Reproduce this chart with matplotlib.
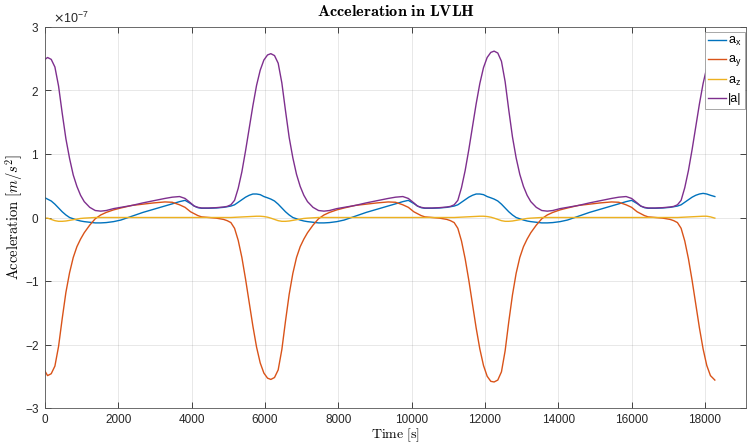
import numpy as np
import matplotlib.pyplot as plt
from matplotlib.ticker import ScalarFormatter, MultipleLocator

plt.rcParams['font.family'] = ['Liberation Sans', 'DejaVu Sans']
plt.rcParams['mathtext.fontset'] = 'cm'
plt.rcParams['axes.unicode_minus'] = False

# time [s], one row per orbit segment (peak of |a| to next peak)
time_s = [0,
          70, 170, 270, 370, 470, 570, 670, 770, 870, 970, 1070, 1220, 1370, 1520, 1670,
          1870, 2070, 2370, 2670, 2970, 3270, 3470, 3670, 3820, 3970, 4070, 4170, 4270,
          4470, 4670, 4870, 4970, 5070, 5170, 5270, 5370, 5470, 5570, 5670, 5770, 5870,
          5970, 6070,
          6160, 6260, 6360, 6460, 6560, 6660, 6760, 6860, 6960, 7060, 7160, 7310, 7460,
          7610, 7760, 7960, 8160, 8460, 8760, 9060, 9360, 9560, 9760, 9910, 10060, 10160,
          10260, 10360, 10560, 10760, 10960, 11060, 11160, 11260, 11360, 11460, 11560,
          11660, 11760, 11860, 11960, 12060, 12160,
          12250, 12350, 12450, 12550, 12650, 12750, 12850, 12950, 13050, 13150, 13250,
          13400, 13550, 13700, 13850, 14050, 14250, 14550, 14850, 15150, 15450, 15650,
          15850, 16000, 16150, 16250, 16350, 16450, 16650, 16850, 17050, 17150, 17250,
          17350, 17450, 17550, 17650, 17750, 17850, 17950, 18050, 18150, 18270]

# accelerations in units of 1e-7 m/s^2
a_x = [0.31,
       0.29, 0.26, 0.21, 0.15, 0.09, 0.04, 0.00, -0.02, -0.04, -0.055, -0.065, -0.075,
       -0.085, -0.085, -0.08, -0.065, -0.04, 0.02, 0.08, 0.13, 0.18, 0.215, 0.25, 0.27,
       0.22, 0.18, 0.155, 0.145, 0.145, 0.15, 0.16, 0.17, 0.18, 0.20, 0.24, 0.28, 0.32,
       0.35, 0.37, 0.37, 0.36, 0.33, 0.31,
       0.29, 0.26, 0.21, 0.15, 0.09, 0.04, 0.00, -0.02, -0.04, -0.055, -0.065, -0.075,
       -0.085, -0.085, -0.08, -0.065, -0.04, 0.02, 0.08, 0.13, 0.18, 0.215, 0.25, 0.27,
       0.22, 0.18, 0.155, 0.145, 0.145, 0.15, 0.16, 0.17, 0.18, 0.20, 0.24, 0.28, 0.32,
       0.35, 0.37, 0.37, 0.36, 0.33, 0.31,
       0.29, 0.26, 0.21, 0.15, 0.09, 0.04, 0.00, -0.02, -0.04, -0.055, -0.065, -0.075,
       -0.085, -0.085, -0.08, -0.065, -0.04, 0.02, 0.08, 0.13, 0.18, 0.215, 0.25, 0.27,
       0.22, 0.18, 0.155, 0.145, 0.145, 0.15, 0.16, 0.17, 0.18, 0.20, 0.24, 0.28, 0.32,
       0.35, 0.37, 0.38, 0.37, 0.35, 0.33]

a_y = [-2.42,
       -2.49, -2.46, -2.34, -2.03, -1.59, -1.18, -0.87, -0.63, -0.46, -0.34, -0.24, -0.12,
       -0.02, 0.04, 0.08, 0.12, 0.15, 0.19, 0.21, 0.23, 0.245, 0.24, 0.20, 0.16, 0.09,
       0.06, 0.03, 0.01, 0.0, -0.01, -0.03, -0.05, -0.08, -0.17, -0.36, -0.63, -0.97,
       -1.34, -1.71, -2.04, -2.29, -2.45, -2.53,
       -2.55, -2.52, -2.40, -2.08, -1.63, -1.21, -0.88, -0.63, -0.46, -0.34, -0.24, -0.12,
       -0.02, 0.04, 0.08, 0.12, 0.15, 0.19, 0.21, 0.23, 0.245, 0.24, 0.20, 0.16, 0.09,
       0.06, 0.03, 0.01, 0.0, -0.01, -0.03, -0.05, -0.08, -0.17, -0.37, -0.65, -0.99,
       -1.37, -1.74, -2.07, -2.33, -2.50, -2.58,
       -2.59, -2.56, -2.43, -2.10, -1.64, -1.22, -0.88, -0.63, -0.46, -0.34, -0.24, -0.12,
       -0.02, 0.04, 0.08, 0.12, 0.15, 0.19, 0.21, 0.23, 0.245, 0.24, 0.20, 0.16, 0.09,
       0.06, 0.03, 0.01, 0.0, -0.01, -0.03, -0.05, -0.08, -0.17, -0.37, -0.65, -0.99,
       -1.37, -1.74, -2.07, -2.33, -2.49, -2.56]

a_z = [-0.01,
       -0.01, -0.03, -0.05, -0.06, -0.06, -0.055, -0.045, -0.035, -0.025, -0.015, -0.01,
       -0.005, 0.0, 0.0, 0.0, 0.0, 0.0, 0.0, 0.0, 0.0, 0.0, 0.0, 0.0, 0.0, 0.0, 0.0, 0.0,
       0.0, 0.0, 0.0, 0.0, 0.0, 0.0, 0.003, 0.006, 0.009, 0.012, 0.015, 0.018, 0.02, 0.02,
       0.015, 0.005,
       -0.01, -0.03, -0.05, -0.06, -0.06, -0.055, -0.045, -0.035, -0.025, -0.015, -0.01,
       -0.005, 0.0, 0.0, 0.0, 0.0, 0.0, 0.0, 0.0, 0.0, 0.0, 0.0, 0.0, 0.0, 0.0, 0.0, 0.0,
       0.0, 0.0, 0.0, 0.0, 0.0, 0.0, 0.003, 0.006, 0.009, 0.012, 0.015, 0.018, 0.02, 0.02,
       0.015, 0.005,
       -0.01, -0.03, -0.05, -0.06, -0.06, -0.055, -0.045, -0.035, -0.025, -0.015, -0.01,
       -0.005, 0.0, 0.0, 0.0, 0.0, 0.0, 0.0, 0.0, 0.0, 0.0, 0.0, 0.0, 0.0, 0.0, 0.0, 0.0,
       0.0, 0.0, 0.0, 0.0, 0.0, 0.0, 0.003, 0.006, 0.009, 0.012, 0.015, 0.018, 0.02, 0.02,
       0.01, -0.01]

a_norm = [2.49,
          2.52, 2.49, 2.37, 2.07, 1.64, 1.24, 0.93, 0.67, 0.49, 0.35, 0.25, 0.16, 0.11,
          0.10, 0.11, 0.14, 0.16, 0.19, 0.23, 0.265, 0.30, 0.32, 0.33, 0.30, 0.23, 0.18,
          0.16, 0.15, 0.15, 0.155, 0.165, 0.175, 0.20, 0.27, 0.46, 0.72, 1.05, 1.40, 1.76,
          2.08, 2.32, 2.48, 2.56,
          2.58, 2.55, 2.43, 2.12, 1.68, 1.26, 0.94, 0.68, 0.49, 0.35, 0.25, 0.16, 0.11,
          0.10, 0.11, 0.14, 0.16, 0.19, 0.23, 0.265, 0.30, 0.32, 0.33, 0.30, 0.23, 0.18,
          0.16, 0.15, 0.15, 0.155, 0.165, 0.175, 0.20, 0.27, 0.47, 0.74, 1.07, 1.43, 1.79,
          2.11, 2.36, 2.52, 2.60,
          2.62, 2.59, 2.46, 2.14, 1.69, 1.27, 0.94, 0.68, 0.49, 0.35, 0.25, 0.16, 0.11,
          0.10, 0.11, 0.14, 0.16, 0.19, 0.23, 0.265, 0.30, 0.32, 0.33, 0.30, 0.23, 0.18,
          0.16, 0.15, 0.15, 0.155, 0.165, 0.175, 0.20, 0.27, 0.47, 0.74, 1.07, 1.43, 1.79,
          2.11, 2.36, 2.51, 2.58]

labels = [r'a$_\mathregular{x}$', r'a$_\mathregular{y}$', r'a$_\mathregular{z}$', '|a|']
colors = ['#0072BD', '#D95319', '#EDB120', '#7E2F8E']

t = np.array(time_s)
series = [a_x, a_y, a_z, a_norm]

fig = plt.figure(figsize=(7.47, 4.44), dpi=100)
ax = fig.add_axes([45 / 747, 1 - 408 / 444, (746 - 45) / 747, (408 - 27) / 444])

for vals, lab, col in zip(series, labels, colors):
    ax.plot(t, np.array(vals) * 1e-7, color=col, lw=1.0, label=lab)

ax.set_xlim(0, 19120)
ax.set_ylim(-3e-7, 3e-7)
ax.xaxis.set_major_locator(MultipleLocator(2000))
ax.yaxis.set_major_locator(MultipleLocator(1e-7))
fmt = ScalarFormatter(useMathText=True)
fmt.set_powerlimits((-3, 3))
ax.yaxis.set_major_formatter(fmt)
off = ax.yaxis.get_offset_text()
off.set_math_fontfamily('dejavusans')
off.set_fontsize(9)
off.set_x(0.012)

ax.grid(True, color='#262626', alpha=0.12, lw=0.6)
ax.tick_params(direction='in', top=True, right=True, length=4, width=0.6,
               color='#262626', labelsize=8.5, labelcolor='#262626', pad=4)
for s in ax.spines.values():
    s.set_color('#555555')
    s.set_linewidth(0.6)

ax.set_title(r'$\mathbf{Acceleration\ in\ LVLH}$', fontsize=11.7, pad=8)
ax.set_xlabel(r'$\mathrm{Time\ [s]}$', fontsize=10, labelpad=0.5)
ax.set_ylabel(r'$\mathrm{Acceleration}\ [m/s^2]$', fontsize=10.5, labelpad=0)

leg = ax.legend(loc='upper right', bbox_to_anchor=(1 - 1 / 701, 1 - 5 / 381),
                borderaxespad=0, fontsize=9, frameon=True, fancybox=False,
                framealpha=1, edgecolor='#999999', handlelength=1.4,
                handletextpad=0.2, borderpad=0.25, labelspacing=0.45)
leg.get_frame().set_linewidth(0.6)

fig.savefig('out.png', dpi=100)
